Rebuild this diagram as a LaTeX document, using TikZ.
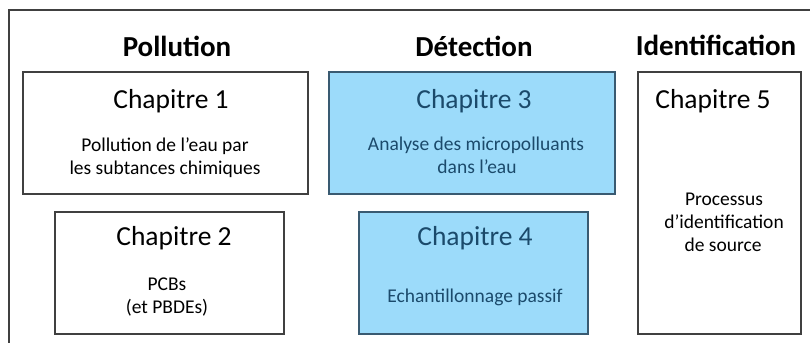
\documentclass[tikz,border=0pt]{standalone}
\usepackage{fontspec}
\setmainfont{Carlito}
\definecolor{bleuclair}{RGB}{156,219,250}
\definecolor{bleutexte}{RGB}{27,74,107}
\definecolor{trait}{RGB}{64,64,64}
\tikzset{
  chapbox/.style={draw=trait, line width=1.2pt, minimum width=#1pt, inner sep=0pt},
  bleubox/.style={fill=bleuclair, draw=bleutexte!70!gray},
  titre/.style={anchor=base, font=\fontsize{29}{31}\selectfont\bfseries},
  chapnom/.style={anchor=base, font=\fontsize{27.5}{30}\selectfont},
  chaptxt/.style={anchor=base, font=\fontsize{19.5}{23}\selectfont},
}
\begin{document}
\begin{tikzpicture}[x=1pt, y=-1pt]
\useasboundingbox (0,0) rectangle (810,343);
% cadre
\draw[trait, line width=1.6pt] (810,10)--(9,10)--(9,343);

% colonnes
\node[titre] (pol) at (177,56) {Pollution};
\node[titre] (det) at (474,56) {Détection};
\node[titre] (ide) at (716,55) {Identification};

% chapitres
\node[chapbox=285, minimum height=122pt] (ch1) at (165.5,133) {};
\node[chapbox=229, minimum height=122pt] (ch2) at (169.5,273) {};
\node[chapbox=286, minimum height=122pt, bleubox] (ch3) at (472,133) {};
\node[chapbox=229, minimum height=122pt, bleubox] (ch4) at (473.5,273) {};
\node[chapbox=163, minimum height=262pt] (ch5) at (719.5,203) {};

\node[chapnom] (t1) at (171,108) {Chapitre 1};
\node[chaptxt] (t1a) at (165,151) {Pollution de l’eau par};
\node[chaptxt] (t1b) at (165,174) {les subtances chimiques};

\node[chapnom] (t2) at (174,245) {Chapitre 2};
\node[chaptxt] (t2a) at (167,290) {PCBs};
\node[chaptxt] (t2b) at (167,313) {(et PBDEs)};

\node[chapnom, bleutexte] (t3) at (474,108) {Chapitre 3};
\node[chaptxt, bleutexte] (t3a) at (476,150) {Analyse des micropolluants};
\node[chaptxt, bleutexte] (t3b) at (477,173) {dans l’eau};

\node[chapnom, bleutexte] (t4) at (475,245) {Chapitre 4};
\node[chaptxt, bleutexte] (t4a) at (475,302) {Echantillonnage passif};

\node[chapnom] (t5) at (713,108) {Chapitre 5};
\node[chaptxt] (t5a) at (724,205) {Processus};
\node[chaptxt] (t5b) at (724,228) {d’identification};
\node[chaptxt] (t5c) at (723,251) {de source};
\end{tikzpicture}
\end{document}
